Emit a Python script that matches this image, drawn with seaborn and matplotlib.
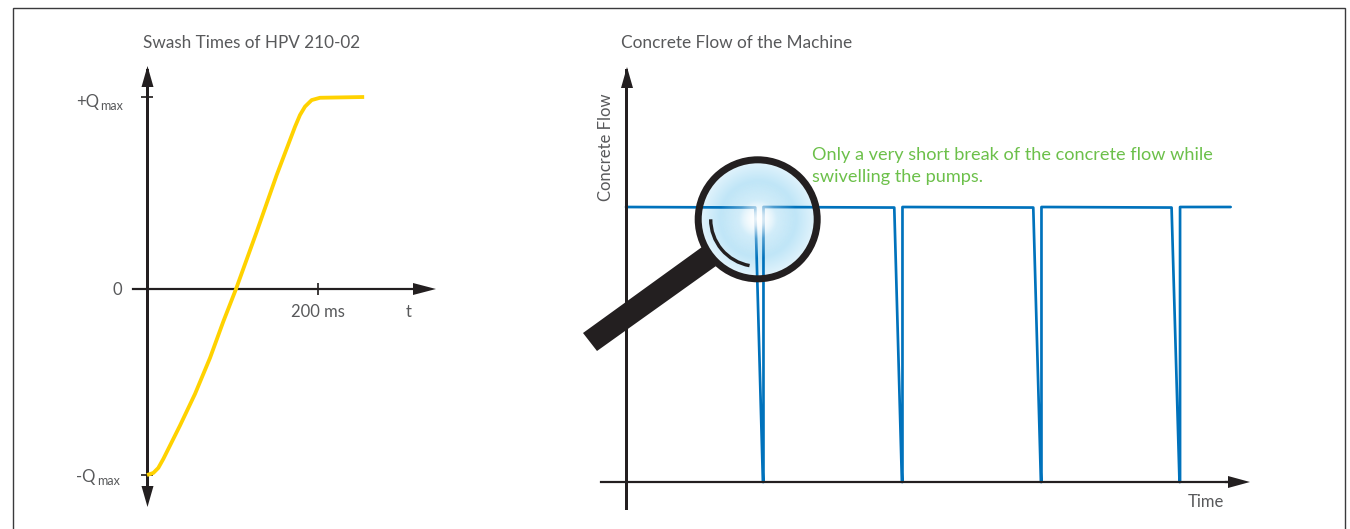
import numpy as np
import pandas as pd
import matplotlib
matplotlib.use("Agg")
import matplotlib.pyplot as plt
import seaborn as sns
from matplotlib.patches import Polygon, Circle, Arc

# ---- data ----
swash_ms = [0, 7.4, 13.2, 19.1, 38.6, 56.1, 73.7, 89.2, 104.1, 128.3, 151.7, 173.1, 178.9, 184.8, 192.6, 202.3, 254.0]
swash_q = [-0.969, -0.958, -0.932, -0.885, -0.711, -0.547, -0.359, -0.170, 0.0, 0.298, 0.594, 0.845, 0.906, 0.950, 0.984, 0.996, 1.0]
flow_time = [0.00, 0.93, 0.985, 0.989, 0.989, 1.93, 1.985, 1.989, 1.989, 2.93, 2.985, 2.989, 2.989, 3.925, 3.982, 3.986, 3.986, 4.35]
flow_value = [1.00, 0.998, 0.0, 0.0, 1.0, 0.998, 0.0, 0.0, 1.0, 0.998, 0.0, 0.0, 1.0, 0.998, 0.0, 0.0, 1.0, 1.0]
left_title = "Swash Times of HPV 210-02"
right_title = "Concrete Flow of the Machine"
note_lines = ["Only a very short break of the concrete flow while", "swivelling the pumps."]

W, H = 1350, 529
INK = "#231f20"
TXT = "#58595b"
YEL = "#ffd200"
BLU = "#0072bc"
GRN = "#6cc04a"
px = 0.72

sns.set_theme(style="white")
plt.rcParams["font.family"] = ["Lato", "DejaVu Sans"]
plt.rcParams["font.size"] = 12
fig = plt.figure(figsize=(W / 100, H / 100), dpi=100, facecolor="white")


def axes_px(x0, y0, x1, y1, z):
    return fig.add_axes([x0 / W, 1 - y1 / H, (x1 - x0) / W, (y1 - y0) / H], zorder=z, facecolor="none")


def overlay(z):
    a = axes_px(0, 0, W, H, z)
    a.set_xlim(0, W)
    a.set_ylim(H, 0)
    a.axis("off")
    return a


under = overlay(0)
top = overlay(5)

# outer frame
under.plot([13, 13, 1345, 1345], [H, 7.5, 7.5, H], color="#3a3a3c", lw=1.0, solid_joinstyle="miter")

# ---- left chart ----
xs, ys = 0.855, 192.0
axL = axes_px(133, 70, 420, 500, 2)
axL.set_xlim(-(147 - 133) / xs, (420 - 147) / xs)
axL.set_ylim((289 - 500) / ys, (289 - 70) / ys)
sns.lineplot(x=swash_ms, y=swash_q, ax=axL, estimator=None, sort=False, color=YEL, lw=3.8 * px,
             solid_capstyle="butt", zorder=4)
axL.set(xlabel="", ylabel="")
for s in ("top", "right"):
    axL.spines[s].set_visible(False)
axL.spines["left"].set_position(("data", 0))
axL.spines["bottom"].set_position(("data", 0))
axL.spines["left"].set_linewidth(3 * px)
axL.spines["bottom"].set_linewidth(2.2 * px)
for s in ("left", "bottom"):
    axL.spines[s].set_color(INK)
axL.set_xticks([200])
axL.set_xticklabels([])
axL.set_yticks([1, -0.97])
axL.set_yticklabels([])
axL.tick_params(axis="both", length=8, width=1.7 * px, color=INK, direction="inout", left=True, bottom=True)

# ---- right chart ----
xs2, ys2 = 139.0, 275.0
axR = axes_px(601, 70, 1232, 508, 2)
axR.set_xlim(-(626 - 601) / xs2, (1232 - 626) / xs2)
axR.set_ylim((482 - 508) / ys2, (482 - 70) / ys2)
sns.lineplot(x=flow_time, y=flow_value, ax=axR, estimator=None, sort=False, color=BLU, lw=2.7 * px,
             solid_joinstyle="round")
axR.set(xlabel="", ylabel="", xticks=[], yticks=[])
for s in ("top", "right"):
    axR.spines[s].set_visible(False)
axR.spines["left"].set_position(("data", 0))
axR.spines["bottom"].set_position(("data", 0))
axR.spines["left"].set_linewidth(3 * px)
axR.spines["bottom"].set_linewidth(2.2 * px)
for s in ("left", "bottom"):
    axR.spines[s].set_color(INK)

# ---- arrow heads ----
heads = [
    [(147.5, 66), (141.5, 87), (153.5, 87)],
    [(147.5, 507), (141.5, 486), (153.5, 486)],
    [(436, 289), (413, 283), (413, 295)],
    [(627, 67), (621, 88), (633, 88)],
    [(1250, 482), (1228, 476), (1228, 488)],
]
for h in heads:
    top.add_patch(Polygon(h, closed=True, fc=INK, ec="none"))
under.plot([1225, 1232], [482, 482], color=INK, lw=2.2 * px)
under.plot([420, 415], [289, 289], color=INK, lw=2.2 * px)

# ---- magnifier ----
cx, cy, R = 757.7, 219.3, 57.0
n = 300
gx, gy = np.meshgrid(np.linspace(-1, 1, n), np.linspace(-1, 1, n))
r = np.hypot(gx, gy)
stops = [0.0, 0.12, 0.32, 0.65, 1.0]
c_r = np.interp(r, stops, [255, 225, 190, 190, 225]) / 255
c_g = np.interp(r, stops, [255, 243, 229, 229, 243]) / 255
c_b = np.interp(r, stops, [255, 252, 247, 247, 252]) / 255
lens = under.imshow(np.dstack([c_r, c_g, c_b]), extent=(cx - R, cx + R, cy + R, cy - R), zorder=1, aspect="auto")
lens.set_clip_path(Circle((cx, cy), R, transform=under.transData))
glow = np.zeros((n, n, 4))
glow[..., :3] = 1.0
glow[..., 3] = np.clip(np.interp(r, [0.0, 0.12, 0.35, 0.7], [0.95, 0.8, 0.3, 0.0]), 0, 1)
gl = top.imshow(glow, extent=(cx - R, cx + R, cy + R, cy - R), zorder=1, aspect="auto")
gl.set_clip_path(Circle((cx, cy), R, transform=top.transData))
under.set_xlim(0, W); under.set_ylim(H, 0)
top.set_xlim(0, W); top.set_ylim(H, 0)
top.add_patch(Polygon([(583, 333), (597, 351), (716, 266), (702, 247)], closed=True, fc=INK, ec="none", zorder=2))
top.add_patch(Circle((cx, cy), 59.5, fc="none", ec=INK, lw=7 * px, zorder=3))
top.add_patch(Arc((cx, cy), 94, 94, theta1=100, theta2=180, ec=INK, lw=3.4 * px, zorder=3))

# ---- text ----
top.text(143, 43, left_title, color=TXT, fontsize=12.3, va="center", ha="left")
top.text(621, 43, right_title, color=TXT, fontsize=12.4, va="center", ha="left")
top.text(812, 155, note_lines[0], color=GRN, fontsize=13.05, va="center", ha="left")
top.text(812, 177, note_lines[1], color=GRN, fontsize=13.05, va="center", ha="left")
top.text(606, 147, "Concrete Flow", color=TXT, fontsize=12, rotation=90, va="center", ha="center")
top.text(1206, 502, "Time", color=TXT, fontsize=12, va="center", ha="center")
top.text(318, 312, "200 ms", color=TXT, fontsize=12, va="center", ha="center")
top.text(409, 312, "t", color=TXT, fontsize=12, va="center", ha="center")
top.text(117, 290, "0", color=TXT, fontsize=12, va="center", ha="center")
top.text(76, 102, "+Q", color=TXT, fontsize=12, va="center", ha="left")
top.text(100, 106, "max", color=TXT, fontsize=9, va="center", ha="left")
top.text(76, 477, "-Q", color=TXT, fontsize=12, va="center", ha="left")
top.text(97, 481, "max", color=TXT, fontsize=9, va="center", ha="left")

fig.savefig("out.png", dpi=100, facecolor="white")
